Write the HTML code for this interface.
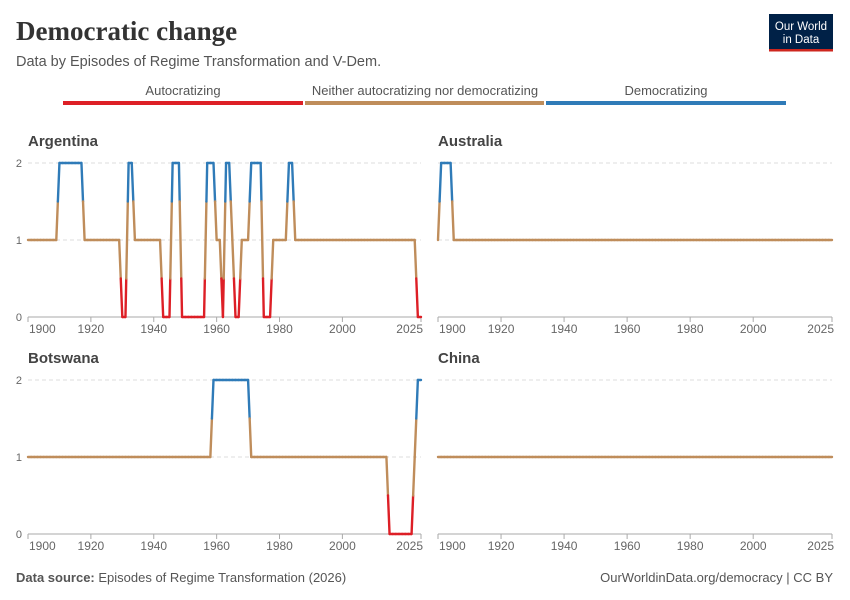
<!DOCTYPE html>
<html><head><meta charset="utf-8"><style>
body{margin:0;background:#fff;}
svg{display:block;font-family:"Liberation Sans",sans-serif;}
</style></head><body>
<svg id="c" width="850" height="600" viewBox="0 0 850 600">
<text x="16" y="40" font-family="Liberation Serif,serif" font-size="27" font-weight="bold" fill="#333">Democratic change</text>
<text x="16" y="66" font-size="14.5" fill="#555">Data by Episodes of Regime Transformation and V-Dem.</text>
<g>
<rect x="769" y="14" width="64" height="37" fill="#002147"/>
<rect x="769" y="49" width="64" height="2.5" fill="#ce261e"/>
<text x="801" y="30" font-size="11.5" fill="#fff" text-anchor="middle">Our World</text>
<text x="801" y="43" font-size="11.5" fill="#fff" text-anchor="middle">in Data</text>
</g>
<g>
<text x="183" y="95" font-size="13" fill="#555" text-anchor="middle">Autocratizing</text>
<rect x="63" y="101" width="240" height="4" fill="#dd1f26"/>
<text x="425" y="95" font-size="13" fill="#555" text-anchor="middle">Neither autocratizing nor democratizing</text>
<rect x="305" y="101" width="239" height="4" fill="#bf8d5b"/>
<text x="666" y="95" font-size="13" fill="#555" text-anchor="middle">Democratizing</text>
<rect x="546" y="101" width="240" height="4" fill="#2f7bb8"/>
</g>
<text x="16" y="582" font-size="13" fill="#555"><tspan font-weight="bold">Data source:</tspan> Episodes of Regime Transformation (2026)</text>
<text x="833" y="582" font-size="13" fill="#555" text-anchor="end">OurWorldinData.org/democracy | CC BY</text>
<g id="panels"></g>
</svg>
<script>
const countries = ["Argentina","Australia","Botswana","China"];
const yearStart = 1900;
const xTicks = [1900,1920,1940,1960,1980,2000,2025];
const yTicks = [0,1,2];
const argentina = [
1,1,1,1,1,1,1,1,1,1,
2,2,2,2,2,2,2,2,1,1,
1,1,1,1,1,1,1,1,1,1,
0,0,2,2,1,1,1,1,1,1,
1,1,1,0,0,0,2,2,2,0,
0,0,0,0,0,0,0,2,2,2,
1,1,0,2,2,1,0,0,1,1,
1,2,2,2,2,0,0,0,1,1,
1,1,1,2,2,1,1,1,1,1,
1,1,1,1,1,1,1,1,1,1,
1,1,1,1,1,1,1,1,1,1,
1,1,1,1,1,1,1,1,1,1,
1,1,1,1,0,0];
const australia = [
1,2,2,2,2,1,1,1,1,1,
1,1,1,1,1,1,1,1,1,1,
1,1,1,1,1,1,1,1,1,1,
1,1,1,1,1,1,1,1,1,1,
1,1,1,1,1,1,1,1,1,1,
1,1,1,1,1,1,1,1,1,1,
1,1,1,1,1,1,1,1,1,1,
1,1,1,1,1,1,1,1,1,1,
1,1,1,1,1,1,1,1,1,1,
1,1,1,1,1,1,1,1,1,1,
1,1,1,1,1,1,1,1,1,1,
1,1,1,1,1,1,1,1,1,1,
1,1,1,1,1,1];
const botswana = [
1,1,1,1,1,1,1,1,1,1,
1,1,1,1,1,1,1,1,1,1,
1,1,1,1,1,1,1,1,1,1,
1,1,1,1,1,1,1,1,1,1,
1,1,1,1,1,1,1,1,1,1,
1,1,1,1,1,1,1,1,1,2,
2,2,2,2,2,2,2,2,2,2,
2,1,1,1,1,1,1,1,1,1,
1,1,1,1,1,1,1,1,1,1,
1,1,1,1,1,1,1,1,1,1,
1,1,1,1,1,1,1,1,1,1,
1,1,1,1,1,0,0,0,0,0,
0,0,0,1,2,2];
const china = [
1,1,1,1,1,1,1,1,1,1,
1,1,1,1,1,1,1,1,1,1,
1,1,1,1,1,1,1,1,1,1,
1,1,1,1,1,1,1,1,1,1,
1,1,1,1,1,1,1,1,1,1,
1,1,1,1,1,1,1,1,1,1,
1,1,1,1,1,1,1,1,1,1,
1,1,1,1,1,1,1,1,1,1,
1,1,1,1,1,1,1,1,1,1,
1,1,1,1,1,1,1,1,1,1,
1,1,1,1,1,1,1,1,1,1,
1,1,1,1,1,1,1,1,1,1,
1,1,1,1,1,1];
const series = [argentina, australia, botswana, china];

const NS="http://www.w3.org/2000/svg";
const root=document.getElementById("panels");
const COL={r:"#dd1f26",b:"#bf8d5b",u:"#2f7bb8"};
function mk(tag,attrs,parent){const e=document.createElementNS(NS,tag);for(const k in attrs)e.setAttribute(k,attrs[k]);parent.appendChild(e);return e;}
const layouts=[{x0:28,x1:421,yTop:163,yBot:317,title:141},{x0:438,x1:832,yTop:163,yBot:317,title:141},{x0:28,x1:421,yTop:380,yBot:534,title:358},{x0:438,x1:832,yTop:380,yBot:534,title:358}];
const yMax=2;
countries.forEach((name,ci)=>{
  const L=layouts[ci], vals=series[ci];
  const yearEnd=2025;
  const xs=y=>L.x0+(y-yearStart)/(yearEnd-yearStart)*(L.x1-L.x0);
  const ys=v=>L.yBot-v/yMax*(L.yBot-L.yTop);
  const g=mk("g",{},root);
  
  
  const t=mk("text",{x:L.x0,y:L.title+5,"font-size":15,"font-weight":"bold",fill:"#444"},g);t.textContent=name;
  
  
  yTicks.forEach(v=>{
    if(v>0){const gl=mk("line",{x1:L.x0,x2:L.x1,y1:ys(v),y2:ys(v),stroke:"#ddd","stroke-dasharray":"4,3"},g);
      
      }
    if(ci%2===0){const tl=mk("text",{x:L.x0-6,y:ys(v)+4,"font-size":11,fill:"#666","text-anchor":"end"},g);tl.textContent=v;
      
      }
  });
  const ax=mk("line",{x1:L.x0,x2:L.x1,y1:L.yBot,y2:L.yBot,stroke:"#aaa"},g);
  
  
  xTicks.forEach((yr,i)=>{
    const x=xs(yr);
    mk("line",{x1:x,x2:x,y1:L.yBot,y2:L.yBot+5,stroke:"#aaa"},g);
    const anchor=i===0?"start":(i===xTicks.length-1?"end":"middle");
    const tx=i===0?x+1:(i===xTicks.length-1?x+2:x);
    const lt=mk("text",{x:tx,y:L.yBot+16,"font-size":12,fill:"#666","text-anchor":anchor},g);lt.textContent=yr;
    
    
  });
  const colOf=v=>v<0.5?COL.r:(v>1.5?COL.u:COL.b);
  for(let i=0;i<vals.length-1;i++){
    const y0=yearStart+i,v0=vals[i],v1=vals[i+1];
    const pts=[0];
    [0.5,1.5].forEach(th=>{if((v0-th)*(v1-th)<0)pts.push((th-v0)/(v1-v0));});
    pts.push(1);pts.sort((a,b)=>a-b);
    for(let k=0;k<pts.length-1;k++){
      const a=pts[k],b=pts[k+1],m=v0+(v1-v0)*(a+b)/2;
      const s=mk("line",{x1:xs(y0+a),y1:ys(v0+(v1-v0)*a),x2:xs(y0+b),y2:ys(v0+(v1-v0)*b),stroke:colOf(m),"stroke-width":2.4,"stroke-linecap":"round"},g);
      
      
    }
  }
});
</script>
</body></html>
